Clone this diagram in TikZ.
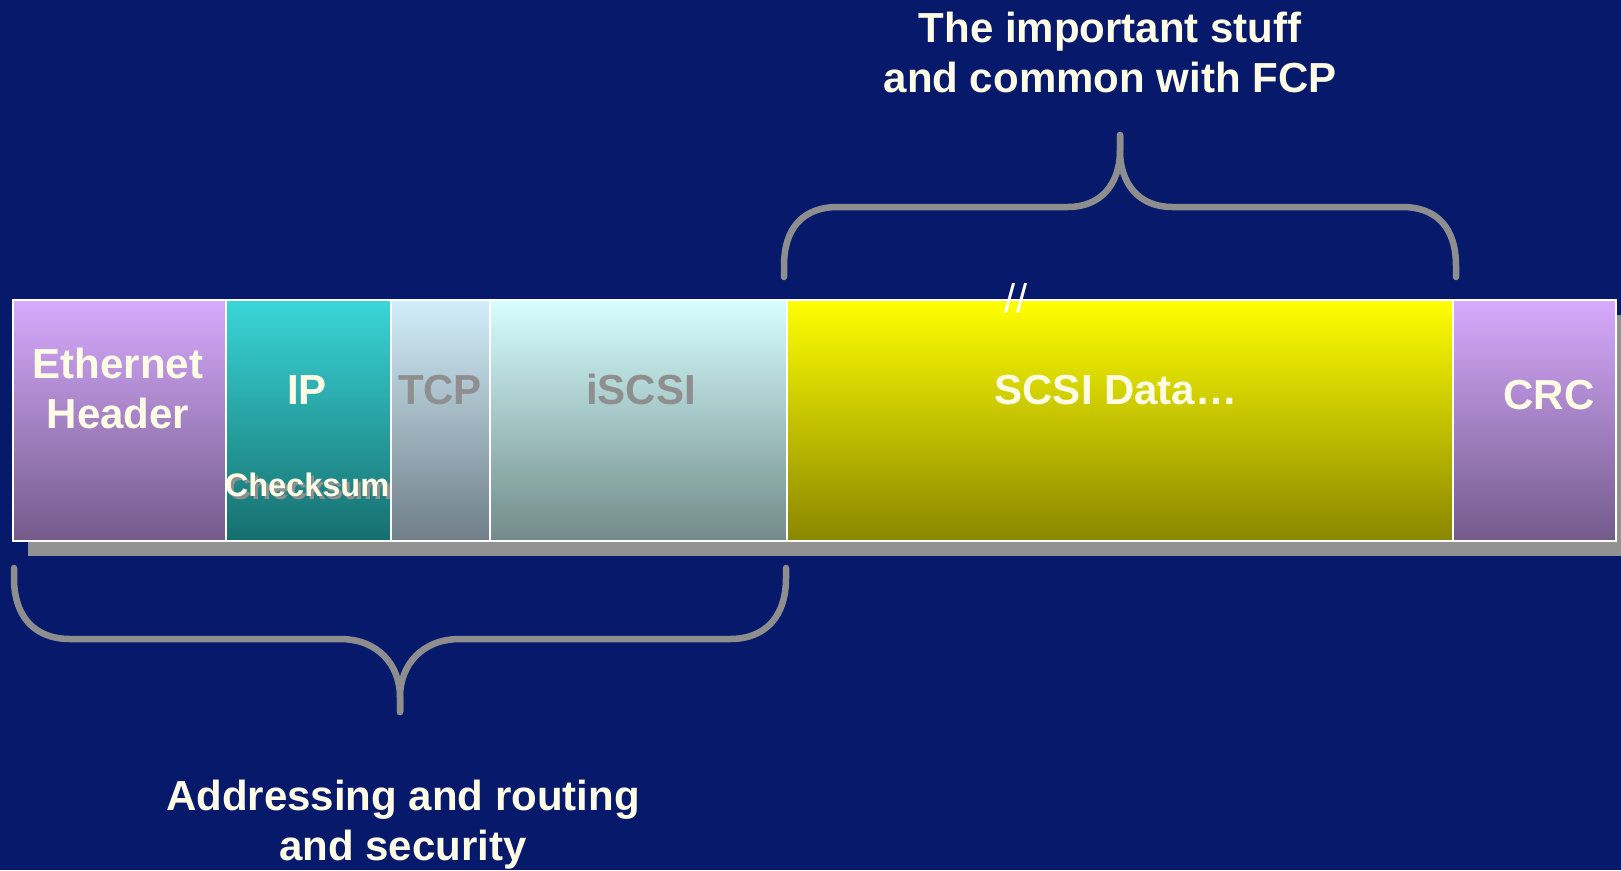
\documentclass[tikz,border=0pt]{standalone}
\usepackage{fontspec}
\setmainfont{Liberation Sans}
\begin{document}
\begin{tikzpicture}[x=1pt,y=-1pt,
  cream/.style={text=textcream},
  lbl/.style={font=\fontsize{42}{50}\selectfont\bfseries, inner sep=0pt, anchor=base},
  small/.style={font=\fontsize{32.5}{38}\selectfont\bfseries, inner sep=0pt, anchor=base},
  field/.style={draw=white, line width=2pt, anchor=north west, inner sep=0pt,
                minimum height=241pt, shading angle=0},
  brace/.style={draw=bracegray, line width=6.5pt, line cap=round, line join=round}
]
\definecolor{bg}{RGB}{7,25,106}
\definecolor{textcream}{RGB}{255,252,230}
\definecolor{labgray}{RGB}{143,143,143}
\definecolor{bracegray}{RGB}{142,142,142}
\definecolor{shadowgray}{RGB}{146,146,146}
\definecolor{lavtop}{RGB}{215,170,253}
\definecolor{lavbot}{RGB}{114,90,138}
\definecolor{tealtop}{RGB}{58,214,216}
\definecolor{tealbot}{RGB}{22,110,110}
\definecolor{slatetop}{RGB}{210,238,250}
\definecolor{slatebot}{RGB}{112,126,136}
\definecolor{aquatop}{RGB}{214,255,254}
\definecolor{aquabot}{RGB}{114,138,138}
\definecolor{yeltop}{RGB}{255,255,0}
\definecolor{yelbot}{RGB}{138,134,0}

% background
\fill[bg] (0,0) rectangle (1621,870);
\useasboundingbox (0,0) rectangle (1621,870);

% drop shadow behind the frame
\fill[shadowgray] (28,315) rectangle (1640,556);

% frame fields
\node[field, minimum width=213pt, top color=lavtop, bottom color=lavbot] (eth) at (12,299) {};
\node[field, minimum width=165pt, top color=tealtop, bottom color=tealbot] (ip) at (225,299) {};
\node[field, minimum width=99pt, top color=slatetop, bottom color=slatebot] (tcp) at (390,299) {};
\node[field, minimum width=297pt, top color=aquatop, bottom color=aquabot] (iscsi) at (489,299) {};
\node[field, minimum width=666pt, top color=yeltop, bottom color=yelbot] (scsi) at (786,299) {};
\node[field, minimum width=163pt, top color=lavtop, bottom color=lavbot] (crc) at (1452,299) {};

% field labels
\node[lbl, cream] (ethA) at (118,378) {Ethernet};
\node[lbl, cream] (ethB) at (118,428) {Header};
\node[lbl, cream] (ipL) at (307,404) {IP};
\node[small, text=labgray] (ckS) at (310,499) {Checksum};
\node[small, cream] (ckL) at (307,496) {Checksum};
\node[lbl, text=labgray] (tcpL) at (440,404) {TCP};
\node[lbl, text=labgray] (iscsiL) at (641,404) {iSCSI};
\node[lbl, cream] (scsiL) at (1116,404) {SCSI Data…};
\node[lbl, cream] (crcL) at (1549,409) {CRC};

% break mark
\node[font=\fontsize{40}{42}\selectfont, text=white, inner sep=0pt, anchor=base] (brk) at (1016,312) {//};

% upper brace
\coordinate (tL) at (784,277);
\coordinate (tT) at (1120,135);
\coordinate (tR) at (1456,277);
\draw[brace] (tL) -- (784,266) .. controls (784,228) and (803,207) .. (838,207)
  -- (1068,207) .. controls (1100,207) and (1120,185) .. (1120,150) -- (tT);
\draw[brace] (tT) -- (1120,150) .. controls (1120,185) and (1140,207) .. (1172,207)
  -- (1402,207) .. controls (1437,207) and (1456,228) .. (1456,266) -- (tR);

% lower brace
\coordinate (bL) at (14,568);
\coordinate (bT) at (400,712);
\coordinate (bR) at (786,568);
\draw[brace] (bL) -- (14,578) .. controls (14,617) and (35,639) .. (70,639)
  -- (340,639) .. controls (378,639) and (400,665) .. (400,697) -- (bT);
\draw[brace] (bT) -- (400,697) .. controls (400,665) and (422,639) .. (460,639)
  -- (730,639) .. controls (765,639) and (786,617) .. (786,578) -- (bR);

% captions
\node[lbl, cream] (topA) at (1110,42) {The important stuff};
\node[lbl, cream] (topB) at (1110,92) {and common with FCP};
\node[lbl, cream] (botA) at (403,810) {Addressing and routing};
\node[lbl, cream] (botB) at (403,860) {and security};
\end{tikzpicture}
\end{document}
